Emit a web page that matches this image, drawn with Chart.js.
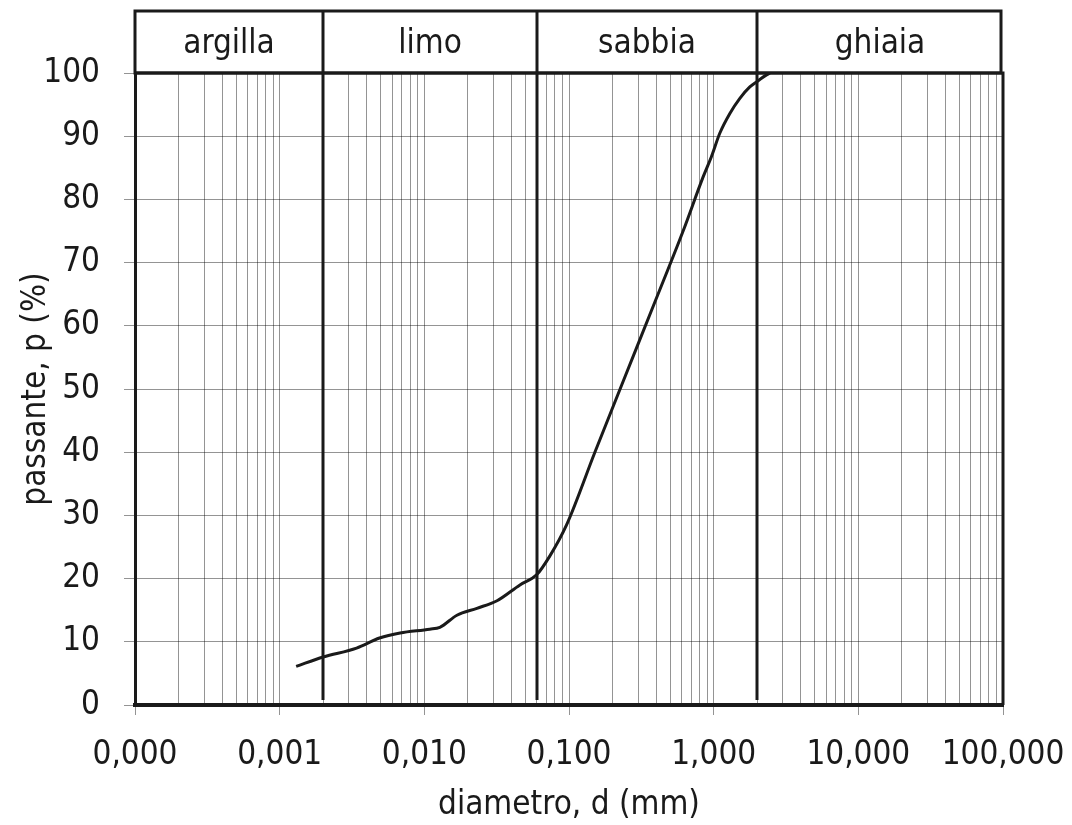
<!DOCTYPE html>
<html>
<head>
<meta charset="utf-8">
<script src="https://cdn.jsdelivr.net/npm/chart.js@4.4.1/dist/chart.umd.min.js"></script>
<style>body{margin:0;background:#fff}</style>
</head>
<body>
<canvas id="myChart" width="1072" height="825"></canvas>
<script>
// curva granulometrica: diametro (mm) / passante (%)
var diametro = [0.0013, 0.002, 0.0034, 0.0049, 0.0068, 0.0109, 0.0128, 0.0168, 0.0231, 0.0318, 0.0458, 0.0597,
    0.0738, 0.0962, 0.151, 0.231, 0.393, 0.615, 0.847, 0.966, 1.104, 1.294, 1.517, 1.778, 1.98, 2.32, 2.45];
var passante = [6.1, 7.6, 9.0, 10.6, 11.4, 12.0, 12.3, 14.2, 15.3, 16.5, 19.0, 20.6,
    23.6, 28.5, 40.0, 50.6, 63.8, 75.0, 83.6, 86.8, 90.5, 93.6, 96.0, 97.8, 98.6, 99.7, 100];

// limiti delle classi
var limiti = [0.002, 0.06, 2];
var classi = ['argilla', 'limo', 'sabbia', 'ghiaia'];

var decadi = [0.0001, 0.001, 0.01, 0.1, 1, 10, 100];
var xLabels = ['0,000', '0,001', '0,010', '0,100', '1,000', '10,000', '100,000'];
var yTicks = [0, 10, 20, 30, 40, 50, 60, 70, 80, 90, 100];

var FONT = "'DejaVu Sans Condensed', 'DejaVu Sans', sans-serif";
var INK = '#1a1a1a';
var GRID = 'rgba(0,0,0,0.42)';

// linee verticali: 1..9 per ogni decade
var xTicks = [];
for (let i = 0; i < decadi.length - 1; i++) {
    for (let k = 1; k < 10; k++) xTicks.push(k * decadi[i]);
}
xTicks.push(decadi[decadi.length - 1]);

function decade(v) {
    for (let i = 0; i < decadi.length; i++) {
        if (Math.abs(v / decadi[i] - 1) < 1e-9) return i;
    }
    return -1;
}

const fasce = {
    id: 'fasce',
    afterDraw(chart) {
        const ctx = chart.ctx;
        const a = chart.chartArea;
        const x = chart.scales.x;
        const top = 11;
        ctx.save();
        ctx.strokeStyle = INK;
        ctx.lineWidth = 3;
        // riquadro intestazione
        ctx.strokeRect(a.left, top, a.right - a.left - 2, a.top - top);
        // bordo superiore e destro del grafico
        ctx.beginPath();
        ctx.moveTo(a.left, a.top);
        ctx.lineTo(a.right, a.top);
        ctx.lineTo(a.right, a.bottom);
        ctx.stroke();
        // separatori delle classi
        var edges = [a.left];
        limiti.forEach(function (l) {
            var px = Math.round(x.getPixelForValue(l));
            edges.push(px);
            ctx.beginPath();
            ctx.moveTo(px, top);
            ctx.lineTo(px, a.bottom - 5);
            ctx.stroke();
        });
        edges.push(a.right);
        ctx.fillStyle = INK;
        ctx.font = '33px ' + FONT;
        ctx.textAlign = 'center';
        ctx.textBaseline = 'middle';
        classi.forEach(function (c, i) {
            ctx.fillText(c, (edges[i] + edges[i + 1]) / 2, (top + a.top) / 2 + 2);
        });
        ctx.restore();
    }
};

const myChart = new Chart(document.getElementById('myChart').getContext('2d'), {
    type: 'line',
    data: {
        datasets: [{
            data: diametro.map(function (d, i) { return {x: d, y: passante[i]}; }),
            borderColor: INK,
            borderWidth: 3,
            pointRadius: 0,
            fill: false,
            cubicInterpolationMode: 'monotone'
        }]
    },
    options: {
        responsive: false,
        animation: false,
        layout: {padding: {top: 73, right: 69, left: 0, bottom: 0}},
        plugins: {legend: {display: false}, tooltip: {enabled: false}},
        scales: {
            x: {
                type: 'logarithmic',
                min: 0.0001,
                max: 100,
                afterBuildTicks: function (s) {
                    s.ticks = xTicks.map(function (v) { return {value: v, major: decade(v) >= 0}; });
                },
                afterFit: function (s) {
                    s.height = 120;
                    s.paddingLeft = 0;
                    s.paddingRight = 0;
                },
                ticks: {
                    autoSkip: false,
                    maxRotation: 0,
                    padding: 21,
                    color: INK,
                    font: {family: FONT, size: 33},
                    callback: function (v) {
                        var i = decade(v);
                        return i >= 0 ? xLabels[i] : '';
                    }
                },
                grid: {
                    color: GRID,
                    lineWidth: 1,
                    tickLength: 10,
                    tickColor: function (c) {
                        return c.tick && decade(c.tick.value) >= 0 ? GRID : 'rgba(0,0,0,0)';
                    }
                },
                border: {color: INK, width: 4},
                title: {
                    display: true,
                    text: 'diametro, d (mm)',
                    color: INK,
                    font: {family: FONT, size: 33},
                    padding: {top: 0, bottom: 0}
                }
            },
            y: {
                min: 0,
                max: 100,
                afterBuildTicks: function (s) {
                    s.ticks = yTicks.map(function (v) { return {value: v}; });
                },
                afterFit: function (s) {
                    s.width = 135;
                    s.paddingTop = 0;
                    s.paddingBottom = 0;
                },
                ticks: {
                    padding: 24,
                    color: INK,
                    font: {family: FONT, size: 33}
                },
                grid: {color: GRID, lineWidth: 1, tickLength: 11, tickColor: GRID},
                border: {color: INK, width: 3},
                title: {
                    display: true,
                    text: 'passante, p (%)',
                    color: INK,
                    font: {family: FONT, size: 33},
                    padding: {top: 17, bottom: 0}
                }
            }
        }
    },
    plugins: [fasce]
});
</script>
</body>
</html>
